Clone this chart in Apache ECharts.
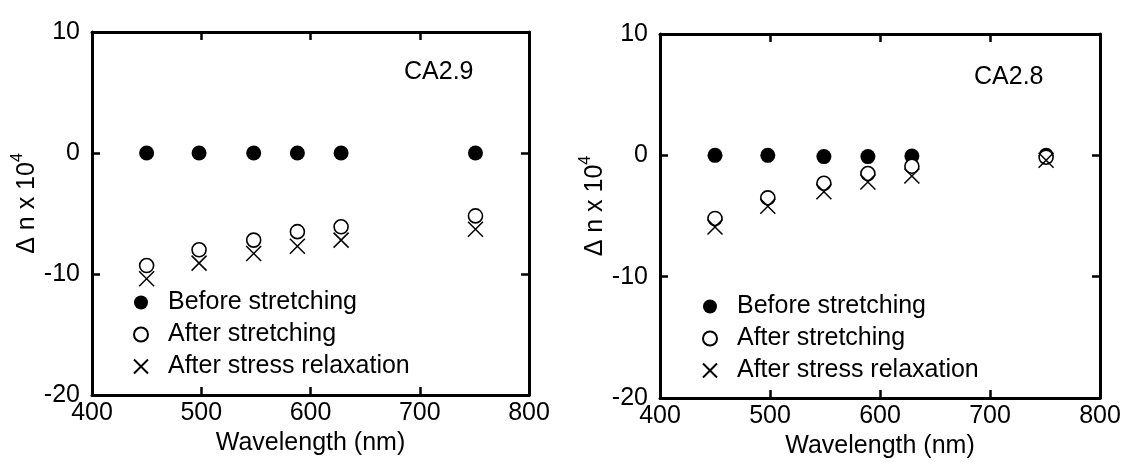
<!DOCTYPE html>
<html>
<head>
<meta charset="utf-8">
<script src="https://cdn.jsdelivr.net/npm/echarts@6/dist/echarts.min.js"></script>
<style>
  html, body { margin: 0; padding: 0; background: #fff; }
  #chart { width: 1124px; height: 464px; }
</style>
</head>
<body>
<div id="chart"></div>
<script>
// Birefringence (Δn × 10^4) against wavelength for two cellulose acetate films
const seriesNames = ['Before stretching', 'After stretching', 'After stress relaxation'];
const panelLabels = ['CA2.9', 'CA2.8'];

// CA2.9
const wavelengthA = [450, 498, 548, 588, 628, 751];
const beforeA = [0, 0, 0, 0, 0, 0];
const afterA = [-9.3, -8.0, -7.2, -6.5, -6.1, -5.2];
const relaxA = [-10.4, -9.1, -8.3, -7.7, -7.2, -6.3];

// CA2.8
const wavelengthB = [450, 498, 549, 589, 629, 751];
const beforeB = [0, 0, -0.1, -0.1, -0.05, 0];
const afterB = [-5.2, -3.5, -2.3, -1.5, -0.9, -0.15];
const relaxB = [-5.9, -4.2, -3.0, -2.2, -1.7, -0.4];

// axis ticks
const xTicks = [400, 500, 600, 700, 800];
const yTicks = [-20, -10, 0, 10];

const FONT = '"Liberation Sans", Arial, sans-serif';
const INK = '#000';
const FS = 25;

const pairs = (xs, ys) => xs.map((x, i) => [x, ys[i]]);

const grids = [
  { left: 92, top: 32, width: 437, height: 363 },
  { left: 660, top: 34, width: 440, height: 365 }
];

const lineStyle = { color: INK, width: 3 };
const tickStyle = { show: true, inside: true, length: 8, lineStyle: { color: INK, width: 2.5 } };
const labelText = { color: INK, fontSize: FS, fontFamily: FONT };

function xAxes(gi, nameGap) {
  const base = {
    type: 'value', gridIndex: gi,
    min: xTicks[0], max: xTicks[xTicks.length - 1], interval: xTicks[1] - xTicks[0],
    splitLine: { show: false },
    axisLine: { show: true, onZero: false, lineStyle },
    axisTick: tickStyle
  };
  return [
    Object.assign({}, base, {
      position: 'bottom',
      axisLabel: Object.assign({ margin: 6, showMinLabel: true, showMaxLabel: true }, labelText),
      name: 'Wavelength (nm)', nameLocation: 'middle', nameGap,
      nameTextStyle: labelText
    }),
    Object.assign({}, base, { position: 'top', axisLabel: { show: false } })
  ];
}

function yAxes(gi) {
  const base = {
    type: 'value', gridIndex: gi,
    min: yTicks[0], max: yTicks[yTicks.length - 1], interval: yTicks[1] - yTicks[0],
    splitLine: { show: false },
    axisLine: { show: true, onZero: false, lineStyle },
    axisTick: tickStyle
  };
  return [
    Object.assign({}, base, {
      position: 'left',
      axisLabel: Object.assign({ margin: 12, showMinLabel: true, showMaxLabel: true }, labelText),
      name: '{m|Δ n x 10}{s|4}', nameLocation: 'middle', nameGap: 40, nameRotate: 90,
      nameTextStyle: {
        color: INK, fontFamily: FONT, fontSize: FS, padding: [0, 0, 0, 20],
        rich: {
          m: { color: INK, fontFamily: FONT, fontSize: FS, lineHeight: 35 },
          s: { color: INK, fontFamily: FONT, fontSize: 16, lineHeight: 14, verticalAlign: 'top' }
        }
      }
    }),
    Object.assign({}, base, { position: 'right', axisLabel: { show: false } })
  ];
}

const crossPath = 'path://M0,0L10,10M10,0L0,10';

function panelSeries(gi, xs, before, after, relax) {
  return [
    {
      name: seriesNames[0], type: 'scatter', xAxisIndex: gi * 2, yAxisIndex: gi * 2,
      symbol: 'circle', symbolSize: 15,
      itemStyle: { color: INK, opacity: 1 },
      data: pairs(xs, before)
    },
    {
      name: seriesNames[1], type: 'scatter', xAxisIndex: gi * 2, yAxisIndex: gi * 2,
      symbol: 'circle', symbolSize: 14,
      itemStyle: { color: '#fff', borderColor: INK, borderWidth: 1.6, opacity: 1 },
      data: pairs(xs, after)
    },
    {
      name: seriesNames[2], type: 'scatter', xAxisIndex: gi * 2, yAxisIndex: gi * 2,
      symbol: crossPath, symbolSize: 15,
      itemStyle: { color: 'rgba(0,0,0,0)', borderColor: INK, borderWidth: 1.5, opacity: 1 },
      data: pairs(xs, relax)
    }
  ];
}

function legendAt(left, top) {
  return {
    left, top, orient: 'vertical', selectedMode: false,
    itemWidth: 44, itemHeight: 14, itemGap: 7,
    textStyle: { color: INK, fontSize: FS, fontFamily: FONT },
    data: seriesNames
  };
}

const chart = echarts.init(document.getElementById('chart'), null, { renderer: 'canvas' });
chart.setOption({
  animation: false,
  backgroundColor: '#fff',
  grid: grids,
  xAxis: [...xAxes(0, 32), ...xAxes(1, 35)],
  yAxis: [...yAxes(0), ...yAxes(1)],
  legend: [legendAt(128, 285), legendAt(697, 289)],
  graphic: [
    { type: 'text', left: 404, top: 60, style: { text: panelLabels[0], fill: INK, font: FS + 'px ' + FONT } },
    { type: 'text', left: 974, top: 65, style: { text: panelLabels[1], fill: INK, font: FS + 'px ' + FONT } }
  ],
  series: [
    ...panelSeries(0, wavelengthA, beforeA, afterA, relaxA),
    ...panelSeries(1, wavelengthB, beforeB, afterB, relaxB)
  ]
});
</script>
</body>
</html>
